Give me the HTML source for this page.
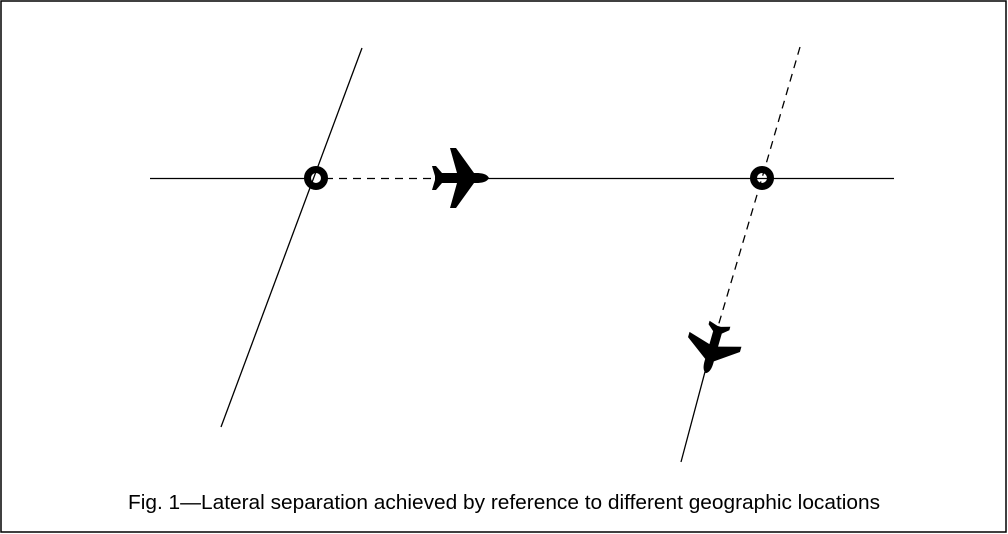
<!DOCTYPE html>
<html><head><style>
html,body{margin:0;padding:0;background:#fff;}
svg{display:block;}
</style></head><body>
<svg width="1008" height="534" viewBox="0 0 1008 534" xmlns="http://www.w3.org/2000/svg">
<rect x="1" y="1" width="1005" height="531" fill="#fff" stroke="#000" stroke-width="1.5"/>
<g stroke="#000" stroke-width="1.3" fill="none">
<line x1="362" y1="48" x2="221" y2="427"/>
<line x1="150" y1="178.5" x2="307" y2="178.5"/>
<line x1="325" y1="178.5" x2="435" y2="178.5" stroke-dasharray="8,6"/>
<line x1="480" y1="178.5" x2="894" y2="178.5"/>
<polyline points="800,47 762,178 714,340" stroke-dasharray="8,6"/>
<line x1="706" y1="368" x2="681" y2="462"/>
<circle cx="316" cy="178" r="8.5" stroke-width="7"/>
<circle cx="762" cy="178" r="8.5" stroke-width="7"/>
</g>
<defs>
<path id="pl" d="M29,0 C27,-4 22,-5 16,-5 L14,-5 L-4,-30 L-10,-30 L-3,-5 L-18,-5 L-24,-12 L-28,-12 L-25,-2 L-25,2 L-28,12 L-24,12 L-18,5 L-3,5 L-10,30 L-4,30 L14,5 L16,5 C22,5 27,4 29,0 Z" fill="#000"/>
</defs>
<use href="#pl" transform="translate(460,178)"/>
<use href="#pl" transform="translate(713,348) rotate(106) scale(0.9)"/>
<text x="128" y="509" textLength="752" lengthAdjust="spacingAndGlyphs" font-family="Liberation Sans, Arial, sans-serif" font-size="20" fill="#000">Fig. 1—Lateral separation achieved by reference to different geographic locations</text>
</svg>
</body></html>
